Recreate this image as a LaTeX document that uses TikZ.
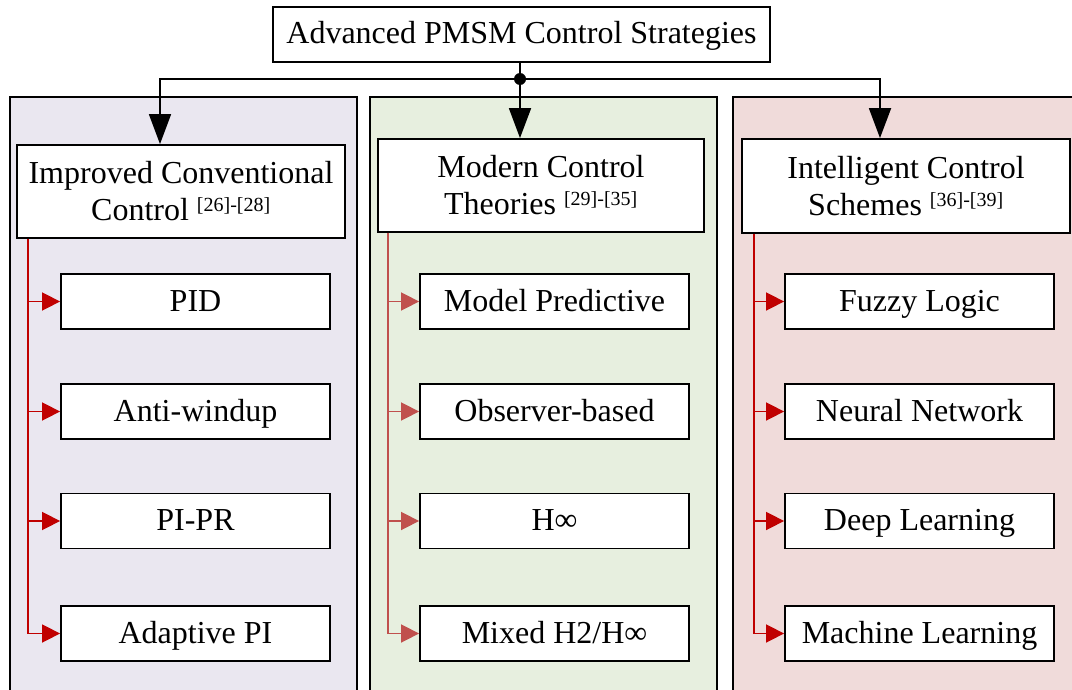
\documentclass[tikz,border=0pt]{standalone}
\usepackage{fontspec}
\setmainfont{Liberation Serif}
\usetikzlibrary{arrows.meta}
\definecolor{convbg}{RGB}{234,231,240}
\definecolor{modbg}{RGB}{231,239,223}
\definecolor{intbg}{RGB}{240,219,218}
\definecolor{darkred}{RGB}{192,0,0}
\definecolor{softred}{RGB}{192,80,77}
\newcommand{\refsup}[1]{\textsuperscript{\fontsize{20}{20}\selectfont #1}}
\begin{document}
\begin{tikzpicture}[x=1pt, y=-1pt,
  panel/.style={draw, line width=1.6pt},
  box/.style={draw, fill=white, line width=1.8pt, inner sep=0pt,
    font=\fontsize{32}{37}\selectfont},
  leaf/.style={box, minimum width=269pt, minimum height=55pt,
    text height=24pt, text depth=5pt},
  head/.style={box, minimum width=327pt, minimum height=93pt, align=center},
  mainarr/.style={line width=1.8pt, -{Triangle[length=30pt, width=22pt]}},
  subarr/.style={line width=1.6pt, -{Triangle[length=18pt, width=18pt]}}
]
  \useasboundingbox (0,0) rectangle (1072,690);
  \clip (0,0) rectangle (1072,690);

  % Background panels
  \draw[panel, fill=convbg] (10,97) rectangle (357,700);
  \draw[panel, fill=modbg] (370,97) rectangle (717,700);
  \draw[panel, fill=intbg] (733,97) rectangle (1085,700);

  % Root
  \node[box, minimum width=497pt, minimum height=55pt,
    text height=24pt, text depth=5pt] (root) at (521.5,34.5)
    {Advanced PMSM Control Strategies};
  \coordinate (split) at (520,79);

  % Category headers
  \node[head, minimum width=328pt] (conv) at (181,191.5)
    {Improved Conventional\\Control \refsup{[26]-[28]}};
  \node[head, minimum width=326pt] (mod) at (541,185.5)
    {Modern Control\\Theories \refsup{[29]-[35]}};
  \node[head, minimum width=328pt, minimum height=94pt] (int) at (906,186)
    {Intelligent Control\\Schemes \refsup{[36]-[39]}};

  \draw[line width=1.8pt] (root.south -| split) -- (split);
  \fill (split) circle (6pt);
  \draw[mainarr] (split) -| ([xshift=-21pt]conv.north);
  \draw[mainarr] (split) -- (mod.north -| split);
  \draw[mainarr] (split) -| ([xshift=-26pt]int.north);

  % Improved conventional
  \node[leaf] (c1) at (195.5,301.5) {PID};
  \node[leaf] (c2) at (195.5,411.5) {Anti-windup};
  \node[leaf] (c3) at (195.5,521) {PI-PR};
  \node[leaf] (c4) at (195.5,633.5) {Adaptive PI};
  \coordinate (ct) at ([xshift=12pt]conv.south west);
  \foreach \k in {1,...,4}
    \draw[subarr, darkred] (ct) |- (c\k.west);

  % Modern control
  \node[leaf] (m1) at (554.5,301.5) {Model Predictive};
  \node[leaf] (m2) at (554.5,411.5) {Observer-based};
  \node[leaf] (m3) at (554.5,521) {H∞};
  \node[leaf] (m4) at (554.5,633.5) {Mixed H2/H∞};
  \coordinate (mt) at ([xshift=11pt]mod.south west);
  \foreach \k in {1,...,4}
    \draw[subarr, softred] (mt) |- (m\k.west);

  % Intelligent control
  \node[leaf] (i1) at (919.5,301.5) {Fuzzy Logic};
  \node[leaf] (i2) at (919.5,411.5) {Neural Network};
  \node[leaf] (i3) at (919.5,521) {Deep Learning};
  \node[leaf] (i4) at (919.5,633.5) {Machine Learning};
  \coordinate (it) at ([xshift=13pt]int.south west);
  \foreach \k in {1,...,4}
    \draw[subarr, darkred] (it) |- (i\k.west);
\end{tikzpicture}
\end{document}
